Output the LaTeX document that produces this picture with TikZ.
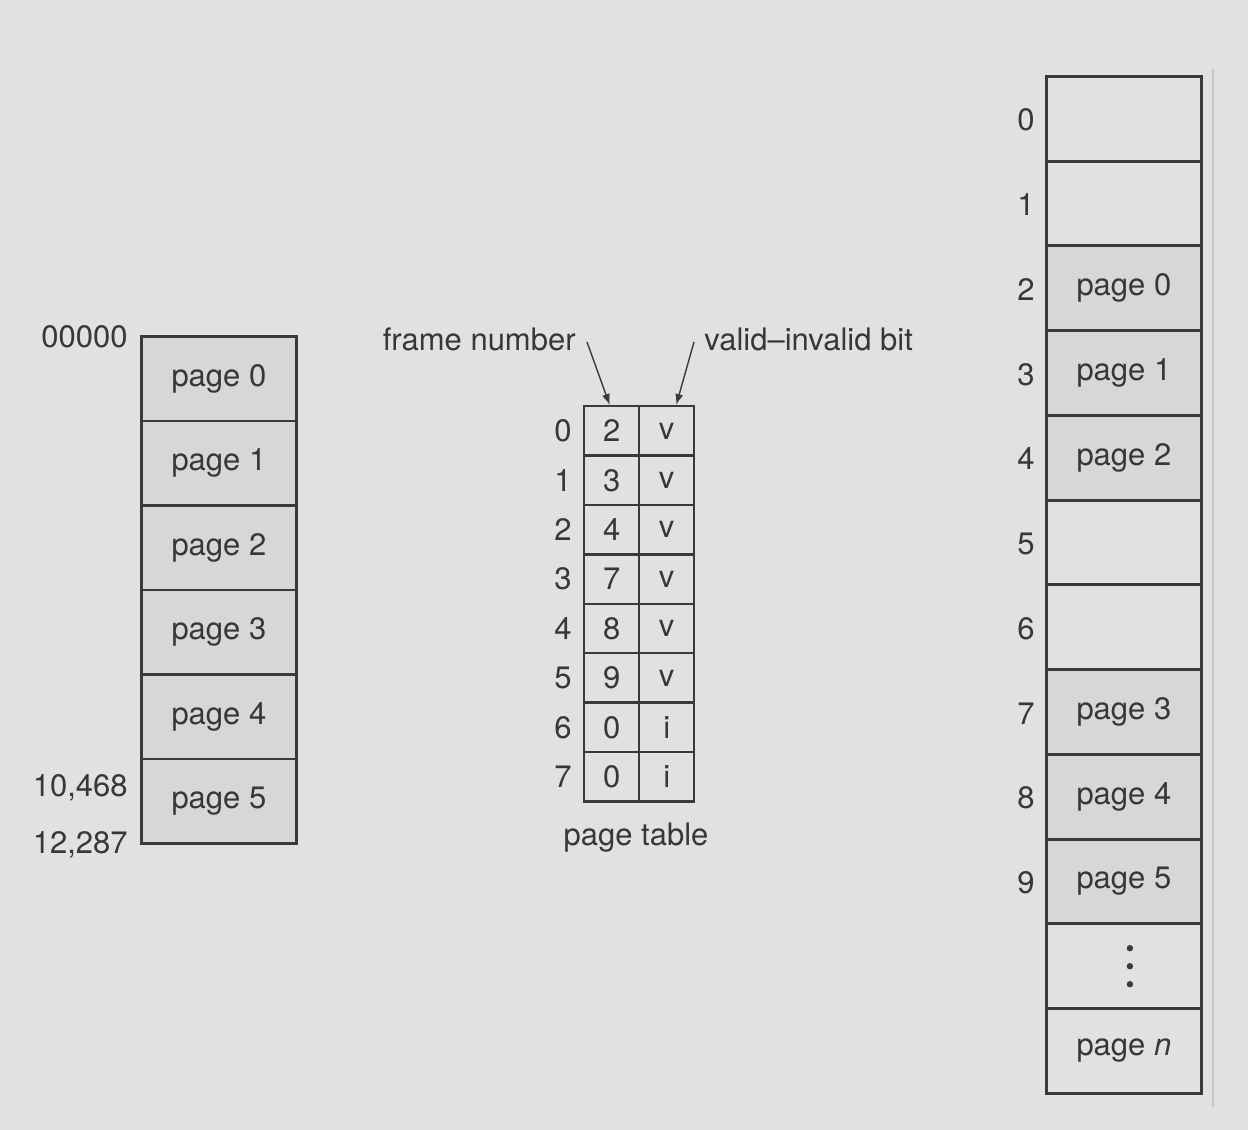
\documentclass[tikz,border=0pt]{standalone}
\usepackage{fontspec}
\setmainfont{TeX Gyre Heros}
\usetikzlibrary{arrows.meta,positioning}
\definecolor{pgbg}{RGB}{225,225,223}
\definecolor{pgfill}{RGB}{215,215,218}
\definecolor{pgline}{RGB}{58,58,58}
\definecolor{pgtext}{RGB}{55,55,55}

\begin{document}
\begin{tikzpicture}[
  x=0.5pt,y=-0.5pt,
  font=\fontsize{15.5}{18}\selectfont,text=pgtext,
  cell/.style={draw=pgline,line width=1.4pt,minimum width=77.5pt,minimum height=42.3pt,
               inner sep=0pt,anchor=north west},
  full/.style={cell,fill=pgfill},
  ptcell/.style={draw=pgline,line width=1.2pt,minimum width=27.5pt,minimum height=24.7pt,
                 inner sep=0pt,anchor=north west},
  idx/.style={inner sep=0pt},
  arr/.style={-{Latex[length=5.5pt,width=4pt]},pgline,line width=0.7pt}
]
  \fill[pgbg] (0,0) rectangle (1248,1130);
  \useasboundingbox (0,0) rectangle (1248,1130);
  % logical memory
  \foreach \i in {0,...,5}
    \node[full] (lp\i) at (140,{335+84.5*\i}) {page \i};
  \node[idx,anchor=east] (ad0) at (128,337) {00000};
  \node[idx,anchor=east] (ad1) at (128,788) {10,468};
  \node[idx,anchor=east] (ad2) at (128,845) {12,287};
  % page table
  \foreach \f/\b [count=\i from 0] in {2/v,3/v,4/v,7/v,8/v,9/v,0/i,0/i} {
    \node[ptcell] (fn\i) at (583,{405+49.4*\i}) {\f};
    \node[ptcell] (vb\i) at (638,{405+49.4*\i}) {\b};
    \node[idx] (pi\i) at (563,{431+49.4*\i}) {\i};
  }
  \node (ptlab) at (636,838) {page table};
  \node[idx,anchor=east] (fnlab) at (576,339) {frame number};
  \node[idx,anchor=west] (vblab) at (704,339) {valid--invalid bit};
  \draw[arr] ([xshift=5.5pt,yshift=-1.5pt]fnlab.east) -- ([xshift=-1pt]fn0.north);
  \draw[arr] ([xshift=-5pt,yshift=-1.5pt]vblab.west) -- ([xshift=4.75pt]vb0.north);
  % physical memory
  \foreach \t/\s [count=\i from 0] in {{}/cell,{}/cell,{page 0}/full,{page 1}/full,
      {page 2}/full,{}/cell,{}/cell,{page 3}/full,{page 4}/full,{page 5}/full,
      {}/cell,{page \textit{n}}/cell}
    \node[\s] (fr\i) at (1045,{75+84.75*\i}) {\t};
  \foreach \i in {0,...,9}
    \node[idx] (fi\i) at (1026,{120+84.75*\i}) {\i};
  \foreach \d in {-1,0,1}
    \fill[pgline] ([xshift=3pt,yshift=\d*9pt]fr10.center) circle (1.6pt);
  \draw[gray!45,line width=0.7pt] ([xshift=5pt,yshift=3pt]fr0.north east)
    -- ([xshift=5pt,yshift=-6pt]fr11.south east);
\end{tikzpicture}
\end{document}
